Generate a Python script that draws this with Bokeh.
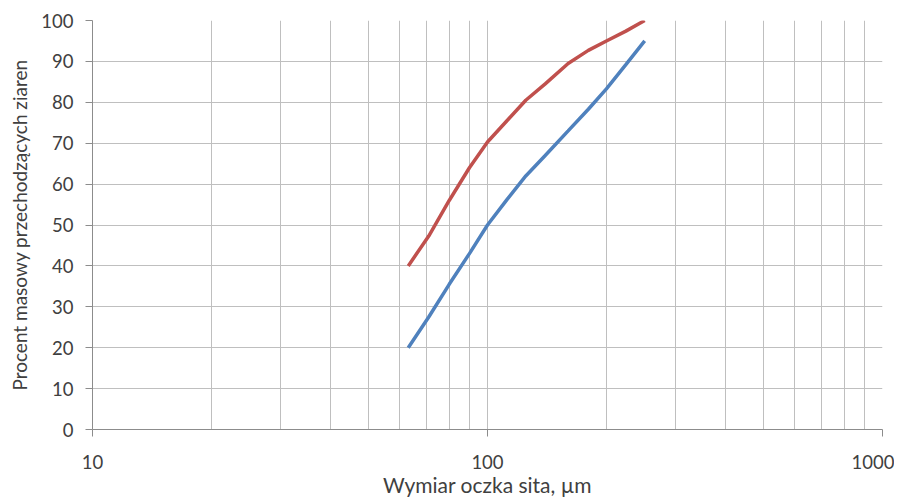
from bokeh.plotting import figure
from bokeh.models import FixedTicker
from bokeh.embed import file_html
from bokeh.resources import INLINE

# Data
sieve = [63, 71, 80, 90, 100, 112, 125, 140, 160, 180, 200, 224, 250]
pass_red = [40, 47.3, 56, 64, 70.3, 75.5, 80.5, 84.5, 89.5, 92.7, 95, 97.4, 100]
pass_blue = [20, 27.5, 35.5, 43, 50, 56.2, 62, 67, 73, 78.3, 83.3, 89.2, 95]

x_major = [10, 100, 1000]
x_minor = [20, 30, 40, 50, 60, 70, 80, 90, 200, 300, 400, 500, 600, 700, 800, 900]
y_ticks = [0, 10, 20, 30, 40, 50, 60, 70, 80, 90, 100]

FONT = "Lato"
TXT = "#404040"
GRID = "#bfbfbf"

p = figure(width=894, height=500, x_axis_type="log", x_range=(10, 1000), y_range=(0, 100),
           output_backend="svg", toolbar_location=None,
           min_border_left=92, min_border_right=12, min_border_top=20, min_border_bottom=71)
p.outline_line_color = None

p.line(sieve, pass_red, line_color="#c0504d", line_width=3.5)
p.line(sieve, pass_blue, line_color="#4f81bd", line_width=3.5)

p.xaxis.ticker = FixedTicker(ticks=x_major, minor_ticks=x_minor)
p.yaxis.ticker = FixedTicker(ticks=y_ticks)
p.xaxis.major_label_overrides = {10: "10", 100: "100", 1000: "1000"}

for ax in (p.xaxis, p.yaxis):
    ax.axis_line_color = "#8c8c8c"
    ax.major_tick_line_color = "#8c8c8c"
    ax.major_tick_out = 7
    ax.major_tick_in = 0
    ax.minor_tick_line_color = None
    ax.major_label_text_font = FONT
    ax.major_label_text_font_size = "18.5px"
    ax.major_label_text_color = TXT
    ax.axis_label_text_font = FONT
    ax.axis_label_text_font_style = "normal"
    ax.axis_label_text_color = TXT

p.xaxis.axis_label = "Wymiar oczka sita, µm"
p.yaxis.axis_label = "Procent masowy przechodzących ziaren"
p.xaxis.axis_label_text_font_size = "21px"
p.yaxis.axis_label_text_font_size = "19px"
p.xaxis.major_label_standoff = 18
p.yaxis.major_label_standoff = 12
p.xaxis.axis_label_standoff = 0
p.yaxis.axis_label_standoff = 7

p.xgrid.grid_line_color = GRID
p.xgrid.minor_grid_line_color = GRID
p.ygrid.grid_line_color = GRID

open("out.html", "w").write(file_html(p, INLINE))
